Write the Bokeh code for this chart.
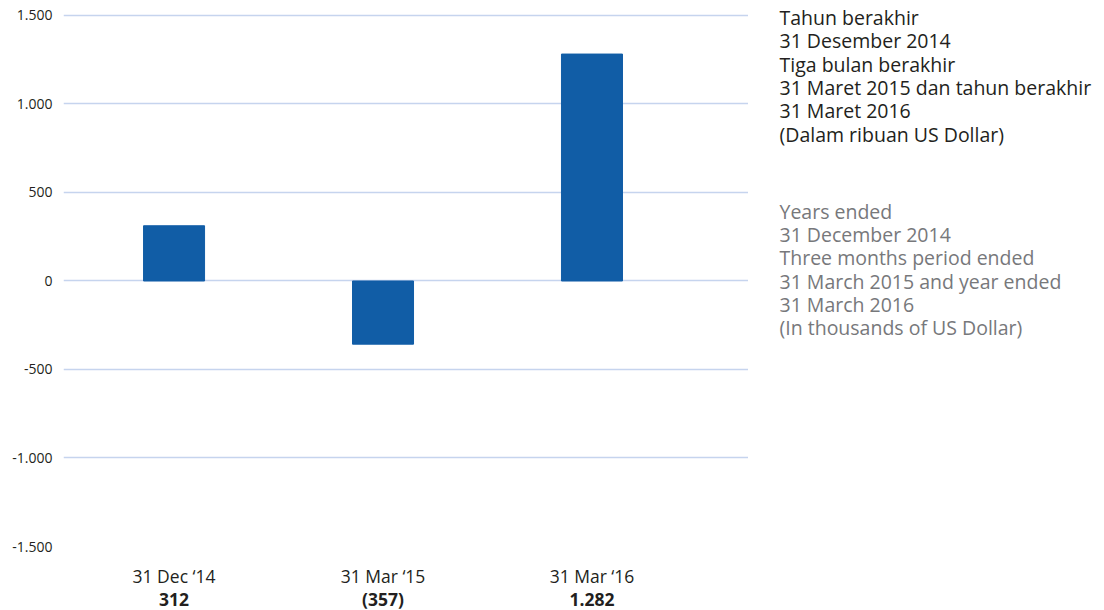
from bokeh.plotting import figure
from bokeh.models import FixedTicker, LinearAxis, Range1d
from bokeh.layouts import row
from bokeh.core.properties import value
from bokeh.embed import file_html
from bokeh.resources import INLINE

# ---- data ----
categories = ["31 Dec \u201814", "31 Mar \u201815", "31 Mar \u201816"]
values = [312, -357, 1282]
value_labels = ["312", "(357)", "1.282"]
y_ticks = [-1500, -1000, -500, 0, 500, 1000, 1500]
y_tick_labels = ["-1.500", "-1.000", "-500", "0", "500", "1.000", "1.500"]
notes_id = ["Tahun berakhir", "31 Desember  2014", "Tiga bulan berakhir",
            "31 Maret 2015 dan tahun berakhir", "31 Maret 2016",
            "(Dalam ribuan US Dollar)"]
notes_en = ["Years ended", "31 December  2014", "Three months period ended",
            "31 March 2015 and year ended", "31 March 2016",
            "(In thousands of US Dollar)"]

FONT = "Open Sans"
H = 613
FL, FR, FB = 63, 748, 547          # chart frame left/right/bottom on the page
Y_TOP_PX = 15                      # page row of the top gridline
xs = list(range(len(categories)))

# y range extended so the top gridline sits 15px under the frame top
px_per_unit = (FB - Y_TOP_PX) / (y_ticks[-1] - y_ticks[0])
y_end = y_ticks[-1] + Y_TOP_PX / px_per_unit

p = figure(width=FR, height=H, output_backend="svg", toolbar_location=None,
           x_range=Range1d(-0.529, 2.749), y_range=Range1d(y_ticks[0], y_end),
           min_border_left=FL, min_border_right=0,
           min_border_top=0, min_border_bottom=H - FB)
p.outline_line_color = None
p.background_fill_color = "white"
p.border_fill_color = "white"

p.vbar(x=xs, top=values, bottom=0, width=0.292, color="#115DA6")

# y axis
p.yaxis.ticker = FixedTicker(ticks=y_ticks)
p.yaxis.major_label_overrides = dict(zip(y_ticks, y_tick_labels))
p.yaxis.axis_line_color = None
p.yaxis.major_tick_line_color = None
p.yaxis.minor_tick_line_color = None
p.yaxis.major_label_text_font = FONT
p.yaxis.major_label_text_font_size = "14px"
p.yaxis.major_label_text_color = "#231F20"
p.yaxis.major_label_standoff = 5
p.ygrid.ticker = FixedTicker(ticks=y_ticks)
p.ygrid.grid_line_color = "#C6D4EE"
p.ygrid.grid_line_width = 1.6
p.xgrid.grid_line_color = None

# x axes: category names, then bold values
p.xaxis.ticker = FixedTicker(ticks=xs)
p.xaxis.major_label_overrides = dict(zip(xs, categories))
ax2 = LinearAxis(ticker=FixedTicker(ticks=xs),
                 major_label_overrides=dict(zip(xs, value_labels)))
p.add_layout(ax2, "below")
for ax, style in ((p.xaxis[0], "normal"), (ax2, "bold")):
    ax.axis_line_color = None
    ax.major_tick_line_color = None
    ax.minor_tick_line_color = None
    ax.major_label_text_font = FONT
    ax.major_label_text_font_size = "17.5px"
    ax.major_label_text_font_style = style
    ax.major_label_text_color = "#231F20"
p.xaxis[0].major_label_standoff = 11
ax2.major_label_standoff = -10

# right-hand notes panel (its frame is aligned with the chart frame;
# y is expressed in page pixels)
NW = 1104 - FR
q = figure(width=NW, height=H, output_backend="svg", toolbar_location=None,
           x_range=Range1d(0, NW), y_range=Range1d(FB, 0),
           min_border=0, x_axis_type=None, y_axis_type=None)
q.outline_line_color = None
q.grid.grid_line_color = None
q.background_fill_color = "white"
q.border_fill_color = "white"

tx = 779 - FR
q.text(x=[tx] * len(notes_id), y=[17 + i * 23.4 for i in range(len(notes_id))],
       text=notes_id, text_font=value(FONT), text_font_size="19.5px",
       text_color="#231F20", text_baseline="middle")
q.text(x=[tx] * len(notes_en), y=[211 + i * 23.4 for i in range(len(notes_en))],
       text=notes_en, text_font=value(FONT), text_font_size="19.5px",
       text_color="#77787B", text_baseline="middle")

layout = row(p, q, spacing=0)
open("out.html", "w").write(file_html(layout, INLINE))
